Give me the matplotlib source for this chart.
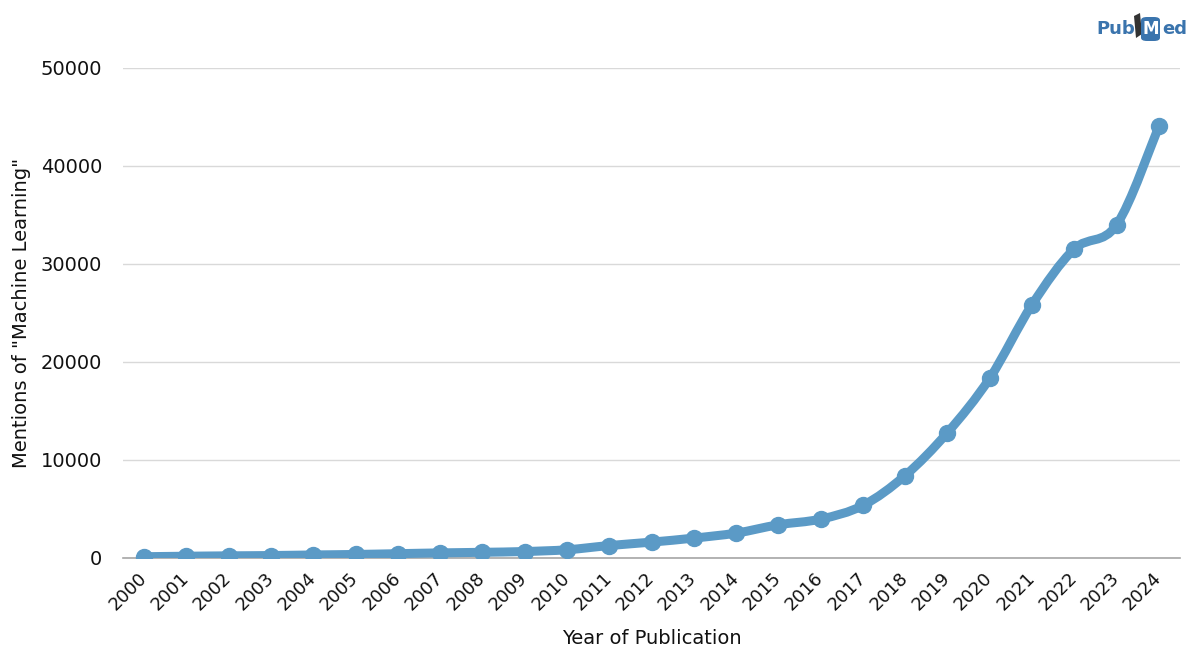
import matplotlib.pyplot as plt
import matplotlib.transforms as mtransforms
import numpy as np
from matplotlib.path import Path
from matplotlib.patches import PathPatch, Polygon, FancyBboxPatch

years = [str(y) for y in range(2000, 2025)]
mentions = [80, 130, 170, 200, 260, 310, 390, 470, 530, 610, 790,
            1220, 1570, 1980, 2490, 3340, 3920, 5310, 8370, 12750,
            18300, 25800, 31500, 33950, 44000]
y_ticks = [0, 10000, 20000, 30000, 40000, 50000]

line_color = "#5b9ac6"


def smooth_path(xs, ys, tension=0.5 / 3):
    # Catmull-Rom style cubic Bezier segments through the points
    xs = np.asarray(xs, float)
    ys = np.asarray(ys, float)
    verts = [(xs[0], ys[0])]
    codes = [Path.MOVETO]
    n = len(xs)
    for i in range(n - 1):
        p0 = max(i - 1, 0)
        p3 = min(i + 2, n - 1)
        c1 = (xs[i] + (xs[i + 1] - xs[p0]) * tension,
              ys[i] + (ys[i + 1] - ys[p0]) * tension)
        c2 = (xs[i + 1] - (xs[p3] - xs[i]) * tension,
              ys[i + 1] - (ys[p3] - ys[i]) * tension)
        verts += [c1, c2, (xs[i + 1], ys[i + 1])]
        codes += [Path.CURVE4] * 3
    return Path(verts, codes)


plt.rcParams["font.family"] = ["DejaVu Sans"]

fig = plt.figure(figsize=(12, 6.59), dpi=100)
ax = fig.add_axes([123 / 1200, 1 - 557.5 / 659, 1057 / 1200, (557.5 - 67.7) / 659])

x = np.arange(len(years))
ax.add_patch(PathPatch(smooth_path(x, mentions), facecolor="none",
                       edgecolor=line_color, lw=6.5, capstyle="round",
                       joinstyle="round", zorder=3))
ax.plot(x, mentions, "o", color=line_color, ms=11.5, zorder=4)

ax.set_xlim(-0.5, len(years) - 0.5)
ax.set_ylim(0, 50000)
ax.set_xticks(x)
ax.set_xticklabels(years, rotation=45, ha="right", va="center",
                   rotation_mode="anchor")
shift = mtransforms.ScaledTranslation(9 / 100, 0, fig.dpi_scale_trans)
for lbl in ax.get_xticklabels():
    lbl.set_transform(lbl.get_transform() + shift)
ax.tick_params(axis="both", length=0, colors="#111111")
ax.tick_params(axis="x", pad=13, labelsize=13)
ax.tick_params(axis="y", pad=15, labelsize=14)
ax.set_yticks(y_ticks)
ax.grid(axis="y", color="#d9d9d9", lw=1)
ax.set_axisbelow(True)
for s in ["top", "right", "left"]:
    ax.spines[s].set_visible(False)
ax.spines["bottom"].set_color("#a6a6a6")
ax.spines["bottom"].set_linewidth(1.2)
ax.spines["bottom"].set_zorder(2)

ax.set_xlabel("Year of Publication", fontsize=14, color="#111111")
ax.xaxis.set_label_coords(0.5, -(639 - 557.5) / (557.5 - 67.7))
ax.xaxis.label.set_va("center")
ax.set_ylabel('Mentions of "Machine Learning"', fontsize=14, color="#111111")
ax.yaxis.set_label_coords(-(123 - 22) / 1057, 0.5)
ax.yaxis.label.set_va("center")

# PubMed logo
logo_blue = "#3a74ad"
fig.text(1096 / 1200, 1 - 29 / 659, "Pub", color=logo_blue, fontsize=13,
         fontweight="bold", va="center", ha="left")
fig.patches.append(Polygon([(1134 / 1200, 1 - 16 / 659), (1140 / 1200, 1 - 13 / 659),
                            (1142 / 1200, 1 - 34 / 659), (1136 / 1200, 1 - 38 / 659)],
                           closed=True, transform=fig.transFigure,
                           facecolor="#333333", edgecolor="none"))
fig.patches.append(FancyBboxPatch((1141 / 1200, 1 - 41 / 659), 19 / 1200, 24 / 659,
                                  boxstyle="round,pad=0,rounding_size=0.005",
                                  transform=fig.transFigure,
                                  facecolor=logo_blue, edgecolor="none"))
fig.text(1150.5 / 1200, 1 - 29 / 659, "M", color="white", fontsize=12,
         fontweight="bold", va="center", ha="center")
fig.text(1162 / 1200, 1 - 29 / 659, "ed", color=logo_blue, fontsize=13,
         fontweight="bold", va="center", ha="left")

fig.savefig("out.png", dpi=100)
